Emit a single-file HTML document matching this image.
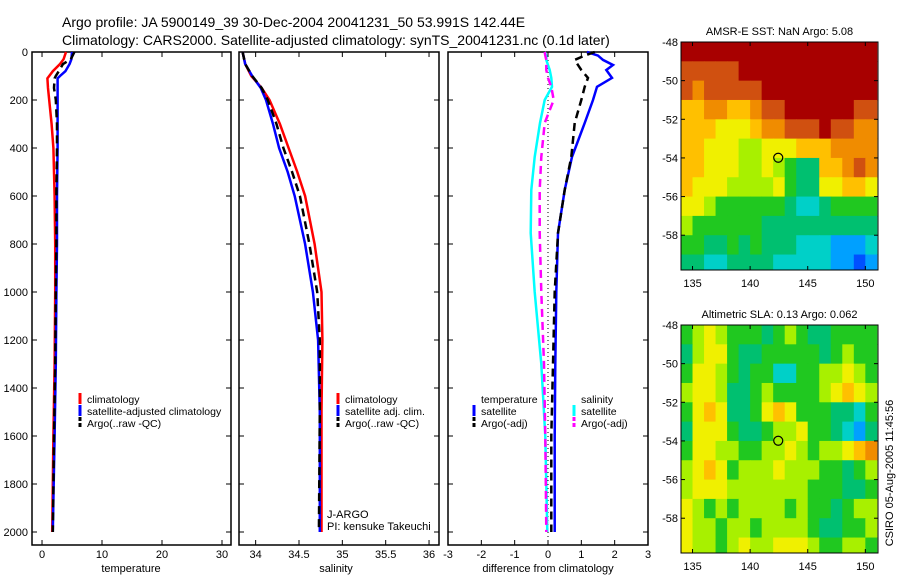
<!DOCTYPE html>
<html><head><meta charset="utf-8"><style>
body{margin:0;background:#fff;}
svg{display:block;font-family:"Liberation Sans",sans-serif;}
</style></head><body>
<svg id="c" width="900" height="580" viewBox="0 0 900 580" xmlns="http://www.w3.org/2000/svg">
<text x="62" y="27" font-size="14">Argo profile: JA 5900149_39 30-Dec-2004 20041231_50 53.991S 142.44E</text>
<text x="62" y="45" font-size="14">Climatology: CARS2000. Satellite-adjusted climatology: synTS_20041231.nc (0.1d later)</text>
<g id="g"></g>
</svg>
<script>
// ---- data ----
const tDepth=[0,30,50,80,100,110,150,200,300,400,600,800,1000,1300,1600,2000];
const tClim=[4.0,3.6,3.0,1.8,1.2,0.9,1.0,1.2,1.6,1.9,2.1,2.2,2.2,2.1,1.9,1.7];
const tSat=[5.0,4.9,4.6,3.9,3.0,2.6,2.6,2.6,2.6,2.6,2.5,2.5,2.4,2.3,2.1,1.8];
const tArgo=[5.4,4.8,3.5,2.8,2.3,2.1,2.0,2.3,2.5,2.5,2.4,2.4,2.3,2.2,2.0,1.8];
const sDepth=[0,50,100,150,200,300,400,500,600,800,1000,1200,1500,2000];
const sClim=[33.85,33.88,33.95,34.07,34.16,34.28,34.38,34.48,34.57,34.68,34.76,34.77,34.76,34.76];
const sSat=[33.85,33.88,33.96,34.06,34.12,34.2,34.27,34.37,34.45,34.57,34.66,34.72,34.74,34.74];
const sArgo=[33.85,33.88,33.96,34.07,34.14,34.24,34.32,34.42,34.51,34.62,34.71,34.74,34.74,34.73];
const dDepth=[0,15,33,54,75,108,145,200,296,437,575,754,1000,1300,1600,2000];
const dTsat=[1.17,1.5,1.65,1.95,1.75,1.92,1.47,1.35,1.1,0.72,0.5,0.3,0.25,0.22,0.2,0.2];
const dTargo=[1.4,1.1,0.8,0.9,1.0,1.2,1.1,1.0,0.8,0.7,0.5,0.3,0.2,0.15,0.1,0.1];
const dSsat=[-0.1,-0.05,-0.05,0.0,0.05,0.1,0.12,-0.1,-0.24,-0.4,-0.5,-0.52,-0.4,-0.2,-0.08,-0.02];
const dSargo=[-0.1,-0.08,-0.05,-0.05,-0.05,0.0,0.1,0.17,-0.1,-0.2,-0.25,-0.25,-0.2,-0.12,-0.08,-0.05];
const sstGrid=[
[10,10,10,10,10,10,10,10,10,10,10,10,10,10,10,10,10],
[9,9,9,9,9,10,10,10,10,10,10,10,10,10,10,10,10],
[9,8,9,9,9,9,9,10,10,10,10,10,10,10,10,10,10],
[7,7,8,8,7,7,8,9,9,10,10,10,10,10,10,9,9],
[7,7,7,6,6,6,7,8,8,9,9,9,10,9,9,8,8],
[7,7,6,6,6,5,5,6,6,6,7,7,7,8,8,8,8],
[7,7,6,6,6,5,5,6,5,4,3,3,7,7,8,9,8],
[7,6,6,6,5,5,5,5,6,4,3,3,6,6,7,7,6],
[6,6,5,4,4,4,4,4,4,3,2,2,3,4,4,4,4],
[5,4,4,4,4,4,4,3,3,3,3,3,3,3,3,3,3],
[4,4,3,3,4,3,4,3,3,3,2,2,2,1,1,1,2],
[3,3,2,2,3,3,3,3,2,2,2,2,2,1,1,0,1]];
const slaGrid=[
[4,5,6,5,4,4,4,3,4,5,4,3,3,4,4,4,4],
[3,5,6,6,4,3,3,4,4,4,4,4,3,4,5,4,4],
[4,6,6,5,4,3,4,4,2,2,4,4,5,5,6,5,4],
[5,6,6,5,3,3,4,5,4,4,4,4,5,6,7,6,5],
[4,6,7,6,3,3,4,6,7,6,4,4,4,3,3,2,4],
[3,6,6,6,4,3,3,4,5,5,6,4,4,3,2,1,3],
[4,6,6,5,5,4,4,5,5,6,5,4,5,5,6,7,8],
[5,6,7,6,4,5,5,5,6,5,5,5,4,4,3,4,5],
[5,6,6,6,5,5,5,5,5,5,5,4,4,4,3,3,4],
[6,5,4,5,4,5,5,5,5,4,5,4,4,3,4,5,5],
[6,5,5,4,5,5,4,5,5,5,5,4,3,3,4,4,5],
[6,5,5,4,5,6,5,5,6,6,6,5,4,4,5,5,4]];
const depthTicks=[0,200,400,600,800,1000,1200,1400,1600,1800,2000];
const tTicks=[0,10,20,30];
const sTicks=[34,34.5,35,35.5,36];
const dTicks=[-3,-2,-1,0,1,2,3];
const latTicks=[-48,-50,-52,-54,-56,-58];
const lonTicks=[135,140,145,150];
const argoPos=[142.44,-53.99];

const NS="http://www.w3.org/2000/svg";
const G=document.getElementById('g');
function mk(t,a,p){const e=document.createElementNS(NS,t);for(const k in a)e.setAttribute(k,a[k]);(p||G).appendChild(e);return e;}
const top_=52,bot=545;
const yD=d=>52+d*0.24;
function panel(x0,x1,xmin,xmax,name){
  const xs=v=>x0+(v-xmin)/(xmax-xmin)*(x1-x0);
  const r=mk('rect',{x:x0,y:top_,width:x1-x0,height:bot-top_,fill:'none',stroke:'#000','stroke-width':1.5});
  
  
  return xs;
}
function ticksX(xs,vals,name,lbl){
  vals.forEach(v=>{const x=xs(v);
    mk('line',{x1:x,x2:x,y1:bot,y2:bot-5,stroke:'#000'});
    mk('line',{x1:x,x2:x,y1:top_,y2:top_+5,stroke:'#000'});
    const t=mk('text',{x:x,y:558,'font-size':11,'text-anchor':'middle'});t.textContent=String(v);
    
    });
}
function ticksY(x0,x1,labels){
  depthTicks.forEach(d=>{const y=yD(d);
    mk('line',{x1:x0,x2:x0+5,y1:y,y2:y,stroke:'#000'});
    mk('line',{x1:x1,x2:x1-5,y1:y,y2:y,stroke:'#000'});
    if(labels){const t=mk('text',{x:x0-4,y:y+4,'font-size':11,'text-anchor':'end'});t.textContent=String(d);
      
      }});
}
function line(xs,vals,depths,col,w,dash,name){
  const pts=vals.map((v,i)=>xs(v).toFixed(1)+','+yD(depths[i]).toFixed(1)).join(' ');
  const a={points:pts,fill:'none',stroke:col,'stroke-width':w};
  if(dash)a['stroke-dasharray']=dash;
  const p=mk('polyline',a);
  
  
}
function label(x,y,txt,name,anchor){const t=mk('text',{x:x,y:y,'font-size':11,'text-anchor':anchor||'middle'});t.textContent=txt;
  
  }
function leg(x,y,col,dash,txt,name){
  if(col)mk('line',{x1:x,x2:x,y1:y-10,y2:y+1,stroke:col,'stroke-width':3,'stroke-dasharray':dash||''});
  const t=mk('text',{x:x+7,y:y,'font-size':10.5});t.textContent=txt;
  
  
}
// panel 1
let xs=panel(32,231,-1.67,31.5,'temperature-panel');
ticksX(xs,tTicks,'temperature');ticksY(32,231,true);
line(xs,tClim,tDepth,'#f00',2.5,null,'temperature-climatology-line');
line(xs,tSat,tDepth,'#00f',2.5,null,'temperature-satellite-line');
line(xs,tArgo,tDepth,'#000',2.5,'8,5','temperature-argo-line');
label(131,572,'temperature','temperature-axis-title');
leg(80,403,'#f00',null,'climatology','legend-climatology');
leg(80,415,'#00f',null,'satellite-adjusted climatology','legend-satellite');
leg(80,427,'#000','4,2','Argo(..raw -QC)','legend-argo');
// panel 2
xs=panel(239,439,33.808,36.115,'salinity-panel');
ticksX(xs,sTicks,'salinity');ticksY(239,439,false);
line(xs,sClim,sDepth,'#f00',2.5,null,'salinity-climatology-line');
line(xs,sSat,sDepth,'#00f',2.5,null,'salinity-satellite-line');
line(xs,sArgo,sDepth,'#000',2.5,'8,5','salinity-argo-line');
label(336,572,'salinity','salinity-axis-title');
leg(338,403,'#f00',null,'climatology','legend-climatology-2');
leg(338,415,'#00f',null,'satellite adj. clim.','legend-satellite-2');
leg(338,427,'#000','4,2','Argo(..raw -QC)','legend-argo-2');
label(327,518,'J-ARGO','j-argo-label','start');
label(327,530,'PI: kensuke Takeuchi','pi-label','start');
// panel 3
xs=panel(448,648,-3,3,'difference-panel');
ticksX(xs,dTicks,'difference');ticksY(448,648,false);
mk('line',{x1:xs(0),x2:xs(0),y1:top_,y2:bot,stroke:'#000','stroke-dasharray':'1,3'});
line(xs,dTsat,dDepth,'#00f',2.5,null,'diff-temp-satellite-line');
line(xs,dTargo,dDepth,'#000',2.5,'8,5','diff-temp-argo-line');
line(xs,dSsat,dDepth,'#0ff',2.5,null,'diff-sal-satellite-line');
line(xs,dSargo,dDepth,'#f0f',2.5,'8,5','diff-sal-argo-line');
label(548,572,'difference from climatology','difference-axis-title');
leg(474,403,null,null,'temperature','legend-temperature-heading');
leg(474,415,'#00f',null,'satellite','legend-temp-satellite');
leg(474,427,'#000','4,2','Argo(-adj)','legend-temp-argo');
leg(574,403,null,null,'salinity','legend-salinity-heading');
leg(574,415,'#0ff',null,'satellite','legend-sal-satellite');
leg(574,427,'#f0f','4,2','Argo(-adj)','legend-sal-argo');
// maps
const cmap=['#0050ff','#00a0ff','#00d0c8','#00c070','#20c820','#a8f000','#f0f000','#ffc000','#f08c00','#d05010','#a80000'];
function map(y0,y1,grid,title,name){
  const x0=681,x1=878;
  const lx=v=>x0+(v-134)/(151.1-134)*(x1-x0);
  const ly=v=>y0+(-48-v)/((-48)-(-59.8))*(y1-y0);
  const g=mk('g',{});
  grid.forEach((row,i)=>row.forEach((v,j)=>{
    const xa=lx(134+j),xb=lx(Math.min(135+j,151.1)),ya=ly(-48-i),yb=ly(Math.max(-49-i,-59.8));
    const c=mk('rect',{x:xa,y:ya,width:xb-xa+0.5,height:yb-ya+0.5,fill:cmap[v]},g);
    
    
  }));
  mk('rect',{x:x0,y:y0,width:x1-x0,height:y1-y0,fill:'none',stroke:'#000'});
  latTicks.forEach(v=>{const y=ly(v);mk('line',{x1:x0,x2:x0+4,y1:y,y2:y,stroke:'#000'});mk('line',{x1:x1,x2:x1-4,y1:y,y2:y,stroke:'#000'});
    const t=mk('text',{x:x0-3,y:y+4,'font-size':11,'text-anchor':'end'});t.textContent=String(v);
    });
  lonTicks.forEach(v=>{const x=lx(v);mk('line',{x1:x,x2:x,y1:y1,y2:y1-4,stroke:'#000'});mk('line',{x1:x,x2:x,y1:y0,y2:y0+4,stroke:'#000'});
    const t=mk('text',{x:x,y:y1+17,'font-size':11,'text-anchor':'middle'});t.textContent=String(v);
    });
  const c=mk('circle',{cx:lx(argoPos[0]),cy:ly(argoPos[1]),r:4.5,fill:'none',stroke:'#000','stroke-width':1.2});
  
  label((x0+x1)/2,y0-7,title,name+'-title');
}
map(42,270,sstGrid,'AMSR-E SST: NaN Argo: 5.08','sst-map');
map(325,553,slaGrid,'Altimetric SLA: 0.13 Argo: 0.062','sla-map');
const cr=mk('text',{x:0,y:0,'font-size':11,'text-anchor':'middle',transform:'translate(893,473) rotate(-90)'});
cr.textContent='CSIRO 05-Aug-2005 11:45:56';


</script>
</body></html>
